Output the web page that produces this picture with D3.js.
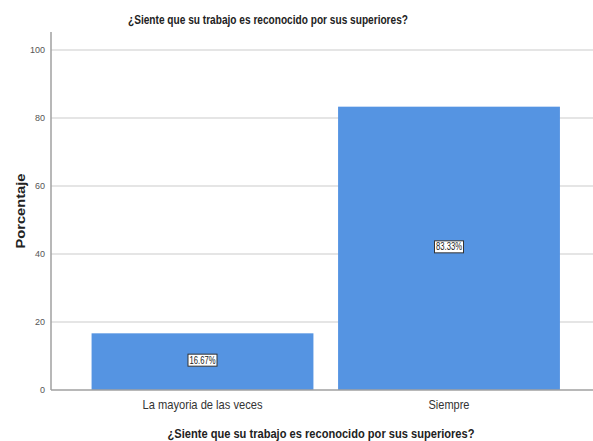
<!DOCTYPE html>
<html><head><meta charset="utf-8">
<script src="https://cdn.jsdelivr.net/npm/d3@7"></script>
<style>body{margin:0;background:#fff}svg{display:block}</style>
</head><body>
<svg id="c" width="593" height="441"></svg>
<script>
const categories = ["La mayoria de las veces", "Siempre"];
const values = [16.67, 83.33];
const valueLabels = ["16.67%", "83.33%"];
const yTicks = [0, 20, 40, 60, 80, 100];
const title = "¿Siente que su trabajo es reconocido por sus superiores?";
const yTitle = "Porcentaje";

const svg = d3.select("#c");
const font = "'Liberation Sans', Arial, sans-serif";
const x = d3.scaleBand().domain(categories).range([79.25, 572.25]).paddingInner(0.1).paddingOuter(0.05);
const y = d3.scaleLinear().domain([0, 100]).range([390, 50]);

// gridlines
svg.append("g").selectAll("line").data(yTicks.filter(d => d > 0)).join("line")
  .attr("x1", 51).attr("x2", 593).attr("y1", d => y(d)).attr("y2", d => y(d))
  .attr("stroke", "#dcdcdc").attr("stroke-width", 1.5);

// bars
svg.append("g").selectAll("rect").data(values).join("rect")
  .attr("x", (d, i) => x(categories[i])).attr("width", x.bandwidth())
  .attr("y", d => y(d)).attr("height", d => y(0) - y(d))
  .attr("fill", "#5594e2");

// axes lines
svg.append("line").attr("x1", 51).attr("x2", 51).attr("y1", 32).attr("y2", 390).attr("stroke", "#a0a0a0").attr("stroke-width", 1.5);
svg.append("line").attr("x1", 51).attr("x2", 593).attr("y1", 390).attr("y2", 390).attr("stroke", "#a0a0a0").attr("stroke-width", 1.5);

// y ticks
svg.append("g").selectAll("text").data(yTicks).join("text")
  .attr("x", 45).attr("y", d => y(d) + 3).attr("text-anchor", "end")
  .attr("font-family", font).attr("font-size", 9).attr("fill", "#555")
  .text(d => d);

// category labels
svg.append("g").selectAll("text").data(categories).join("text")
  .attr("x", d => x(d) + x.bandwidth() / 2).attr("y", 409).attr("text-anchor", "middle")
  .attr("font-family", font).attr("font-size", 13).attr("fill", "#333")
  .attr("textLength", d => d.length > 10 ? 120 : 41).attr("lengthAdjust", "spacingAndGlyphs")
  .text(d => d);

// value labels
const lg = svg.append("g").selectAll("g").data(values).join("g")
  .attr("transform", (d, i) => `translate(${x(categories[i]) + x.bandwidth() / 2},${y(d / 2) - 1.5})`);
lg.append("rect").attr("x", -14.5).attr("y", -6).attr("width", 29).attr("height", 12)
  .attr("fill", "#fff").attr("stroke", "#333").attr("stroke-width", 1);
lg.append("text").attr("y", 3.5).attr("text-anchor", "middle")
  .attr("font-family", font).attr("font-size", 10).attr("fill", "#222")
  .attr("textLength", 26).attr("lengthAdjust", "spacingAndGlyphs")
  .text((d, i) => valueLabels[i]);

// titles
svg.append("text").attr("x", 268).attr("y", 24).attr("text-anchor", "middle")
  .attr("font-family", font).attr("font-size", 13).attr("font-weight", "bold").attr("fill", "#222")
  .attr("textLength", 280).attr("lengthAdjust", "spacingAndGlyphs").text(title);
svg.append("text").attr("x", 321).attr("y", 438).attr("text-anchor", "middle")
  .attr("font-family", font).attr("font-size", 13).attr("font-weight", "bold").attr("fill", "#222")
  .attr("textLength", 307).attr("lengthAdjust", "spacingAndGlyphs").text(title);
svg.append("text").attr("transform", "translate(25,211) rotate(-90)").attr("text-anchor", "middle")
  .attr("font-family", font).attr("font-size", 12).attr("font-weight", "bold").attr("fill", "#222")
  .attr("textLength", 75).attr("lengthAdjust", "spacingAndGlyphs").text(yTitle);
</script>
</body></html>
